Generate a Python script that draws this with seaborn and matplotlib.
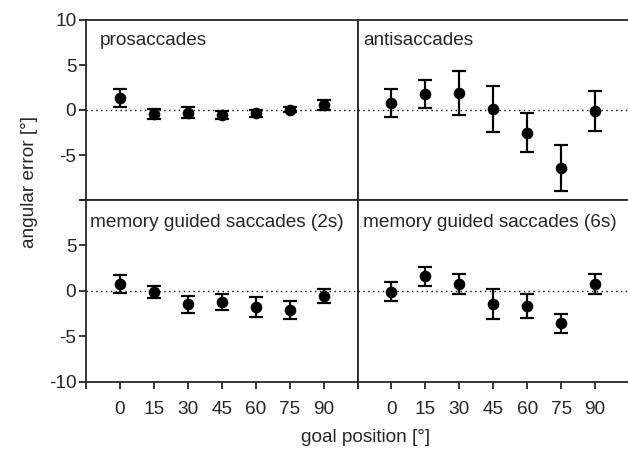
import matplotlib
matplotlib.use("Agg")
import matplotlib.pyplot as plt
import numpy as np
import pandas as pd
import seaborn as sns

# goal positions [deg] and mean angular error +/- error per task
goal = [0, 15, 30, 45, 60, 75, 90]

pro_mean = [1.3, -0.4, -0.3, -0.6, -0.35, 0.05, 0.55]
pro_err = [1.0, 0.55, 0.6, 0.45, 0.4, 0.3, 0.6]

anti_mean = [0.8, 1.8, 1.9, 0.1, -2.5, -6.45, -0.1]
anti_err = [1.55, 1.55, 2.4, 2.55, 2.2, 2.55, 2.25]

mgs2_mean = [0.75, -0.1, -1.5, -1.25, -1.8, -2.1, -0.6]
mgs2_err = [0.95, 0.65, 0.95, 0.9, 1.1, 1.0, 0.8]

mgs6_mean = [-0.1, 1.6, 0.75, -1.45, -1.65, -3.6, 0.75]
mgs6_err = [1.05, 1.05, 1.1, 1.65, 1.3, 1.05, 1.1]

titles = ["prosaccades", "antisaccades",
          "memory guided saccades (2s)", "memory guided saccades (6s)"]

FS = 13.7
sns.set_style("ticks")
plt.rcParams["font.family"] = ["Liberation Sans", "DejaVu Sans"]
plt.rcParams["font.size"] = FS
plt.rcParams["axes.linewidth"] = 1.3

W, H = 628, 450
fig = plt.figure(figsize=(W / 100, H / 100), dpi=100)

x0, xm, x1 = 86, 357.5, 629
y0, ym, y1 = 20, 200, 381.5
rects = [
    (x0, y0, xm, ym), (xm, y0, x1, ym),
    (x0, ym, xm, y1), (xm, ym, x1, y1),
]
series = [(pro_mean, pro_err), (anti_mean, anti_err),
          (mgs2_mean, mgs2_err), (mgs6_mean, mgs6_err)]
# text anchor (x, y in axes fraction) for each panel title
title_pos = [(0.052, 0.861), (0.022, 0.861), (0.015, 0.851), (0.020, 0.851)]

xticks = np.arange(-15, 106, 15)
xlabels = [str(t) if 0 <= t <= 90 else "" for t in xticks]

for i, (rect, (m, e), title) in enumerate(zip(rects, series, titles)):
    l, t, r, b = rect
    ax = fig.add_axes([l / W, 1 - b / H, (r - l) / W, (b - t) / H])
    df = pd.DataFrame({"goal": goal, "err": m})
    ax.axhline(0, color="black", lw=1.0, ls=(0, (1, 2.5)), zorder=1)
    ax.errorbar(goal, m, yerr=e, fmt="none", ecolor="black", elinewidth=1.6,
                capsize=5, capthick=1.6, zorder=2)
    sns.scatterplot(data=df, x="goal", y="err", ax=ax, color="black", s=70,
                    edgecolor="black", linewidth=0, zorder=3, legend=False)
    ax.set_xlim(-15, 105)
    ax.set_ylim(-10, 10)
    ax.set_xlabel("")
    ax.set_ylabel("")
    ax.text(*title_pos[i], title, transform=ax.transAxes, ha="left",
            va="baseline", fontsize=FS)
    col = i % 2
    row = i // 2
    if col == 1:
        ax.spines["right"].set_visible(False)
        ax.set_yticks([])
    else:
        ax.set_yticks([10, 5, 0, -5, -10])
        if row == 0:
            ax.set_yticklabels(["10", "5", "0", "-5", ""])
        else:
            ax.set_yticklabels(["", "5", "0", "-5", "-10"])
        ax.tick_params(axis="y", direction="out", length=5, width=1.3, pad=2)
    if row == 1:
        ax.set_xticks(xticks)
        ax.set_xticklabels(xlabels)
        ax.tick_params(axis="x", direction="out", length=5, width=1.3, pad=9)
    else:
        ax.set_xticks([])

fig.text(30 / W, 1 - 182 / H, "angular error [°]", rotation=90,
         ha="center", va="center", fontsize=FS)
fig.text(366 / W, 1 - 437 / H, "goal position [°]", ha="center",
         va="center", fontsize=FS)

fig.savefig("out.png", dpi=100)
